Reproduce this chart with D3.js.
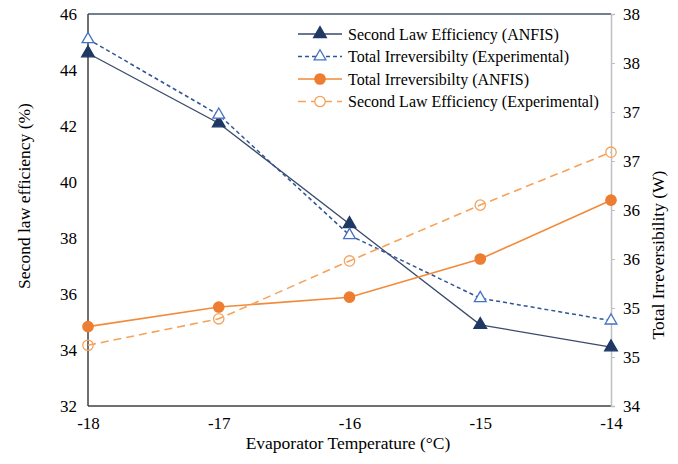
<!DOCTYPE html>
<html><head><meta charset="utf-8">
<script src="https://cdn.jsdelivr.net/npm/d3@7/dist/d3.min.js"></script>
<style>html,body{margin:0;padding:0;background:#fff;}svg{display:block;} svg text{font-family:"Liberation Serif","Times New Roman",Times,serif !important;}</style>
</head><body><svg id="c" width="678" height="464"></svg>
<script>
const temps = [-18, -17, -16, -15, -14];
const xTickLabels = ["-18", "-17", "-16", "-15", "-14"];
const leftTicks = [32, 34, 36, 38, 40, 42, 44, 46];
const rightTicks = [34, 34.5, 35, 35.5, 36, 36.5, 37, 37.5, 38];
const rightTickLabels = ["34", "35", "35", "36", "36", "37", "37", "38", "38"];
const secondLawANFIS = [44.6, 42.1, 38.5, 34.9, 34.1];
const irrevExpTri = [45.1, 42.4, 38.1, 35.85, 35.05];
const irrevANFIS = [34.81, 35.01, 35.11, 35.5, 36.1];
const secondLawExpCirc = [34.62, 34.89, 35.48, 36.05, 36.59];
const legendLabels = ["Second Law Efficiency (ANFIS)", "Total Irreversibilty (Experimental)", "Total Irreversibilty (ANFIS)", "Second Law Efficiency (Experimental)"];

const svg = d3.select("#c");
const L = 88, R = 611, T = 14, B = 406;
const x = d3.scaleLinear().domain([-18, -14]).range([L, R]);
const yL = d3.scaleLinear().domain([32, 46]).range([B, T]);
const yR = d3.scaleLinear().domain([34, 38]).range([B, T]);

// frame
svg.append("line").attr("x1", L).attr("x2", R).attr("y1", T).attr("y2", T).attr("stroke", "#44546a").attr("stroke-width", 1.5);
svg.append("line").attr("x1", L).attr("x2", R).attr("y1", B).attr("y2", B).attr("stroke", "#404040").attr("stroke-width", 1.5);
svg.append("line").attr("x1", L).attr("x2", L).attr("y1", T).attr("y2", B).attr("stroke", "#404040").attr("stroke-width", 1.5);

// right axis
const ra = svg.append("g").attr("transform", `translate(${R},0)`)
  .call(d3.axisRight(yR).tickValues(rightTicks).tickSize(4).tickFormat((d, i) => rightTickLabels[i]));
ra.select(".domain").attr("stroke", "#bfbfbf").attr("stroke-width", 1.5);
ra.selectAll(".tick line").attr("stroke", "#bfbfbf");
ra.selectAll("text").attr("font-size", 17).attr("fill", "#000").attr("x", 12);

// left axis labels
const la = svg.append("g").attr("transform", `translate(${L},0)`)
  .call(d3.axisLeft(yL).tickValues(leftTicks).tickSize(0).tickFormat(d3.format("d")));
la.select(".domain").remove();
la.selectAll("text").attr("font-size", 17).attr("fill", "#000").attr("x", -11);

// x axis labels
const xa = svg.append("g").attr("transform", `translate(0,${B})`)
  .call(d3.axisBottom(x).tickValues(temps).tickSize(0).tickFormat((d, i) => xTickLabels[i]));
xa.select(".domain").remove();
xa.selectAll("text").attr("font-size", 17).attr("fill", "#000").attr("y", 11);

// titles
svg.append("text").attr("x", 348).attr("y", 449).attr("text-anchor", "middle").attr("font-size", 17.5).text("Evaporator Temperature (°C)");
svg.append("text").attr("transform", "translate(30,196) rotate(-90)").attr("text-anchor", "middle").attr("font-size", 17.5).text("Second law efficiency (%)");
svg.append("text").attr("transform", "translate(664,255) rotate(-90)").attr("text-anchor", "middle").attr("font-size", 17.5).text("Total Irreversibility (W)");

const series = [
  {vals: secondLawANFIS, y: yL, line: "#3a4a6b", dash: null, sym: d3.symbolTriangle, fill: "#1f3864", stroke: "#1f3864", size: 70, w: 1.3},
  {vals: irrevExpTri, y: yL, line: "#2f5597", dash: "4,3", sym: d3.symbolTriangle, fill: "#fff", stroke: "#4472c4", size: 60, w: 1.5},
  {vals: irrevANFIS, y: yR, line: "#f28a3a", dash: null, sym: d3.symbolCircle, fill: "#ed7d31", stroke: "#ed7d31", size: 85, w: 1.6},
  {vals: secondLawExpCirc, y: yR, line: "#f5a25a", dash: "8,5", sym: d3.symbolCircle, fill: "none", stroke: "#f5a25a", size: 85, w: 1.6}
];

series.forEach(s => {
  const ln = d3.line().x((d, i) => x(temps[i])).y(d => s.y(d));
  svg.append("path").datum(s.vals).attr("d", ln).attr("fill", "none").attr("stroke", s.line).attr("stroke-width", s.w).attr("stroke-dasharray", s.dash);
});
series.forEach(s => {
  svg.append("g").selectAll("path").data(s.vals).join("path")
    .attr("transform", (d, i) => `translate(${x(temps[i])},${s.y(d)})`)
    .attr("d", d3.symbol().type(s.sym).size(s.size))
    .attr("fill", s.fill).attr("stroke", s.stroke).attr("stroke-width", 1.3);
});

// legend
const lg = svg.append("g");
const rowY = [34, 56.5, 79, 101.5];
series.forEach((s, i) => {
  const g = lg.append("g").attr("transform", `translate(298,${rowY[i]})`);
  g.append("line").attr("x1", 0).attr("x2", 44).attr("stroke", s.line).attr("stroke-width", s.w).attr("stroke-dasharray", s.dash);
  g.append("path").attr("transform", "translate(22,0)").attr("d", d3.symbol().type(s.sym).size(s.size))
    .attr("fill", s.fill === "none" ? "#fff" : s.fill).attr("stroke", s.stroke).attr("stroke-width", 1.3);
  g.append("text").attr("x", 50).attr("y", 5.5).attr("font-size", 16).text(legendLabels[i]);
});
</script></body></html>
